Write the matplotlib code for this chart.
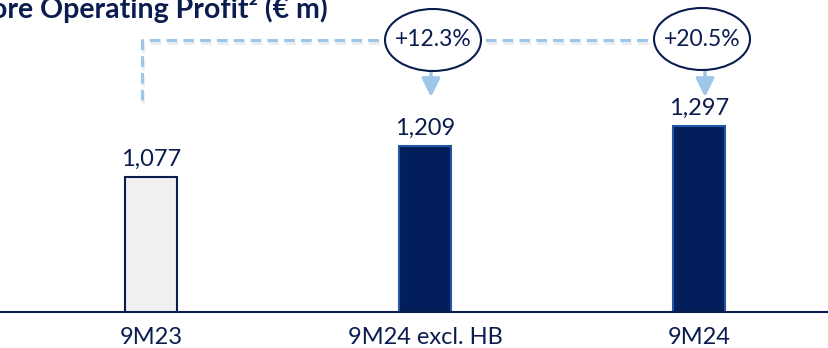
import matplotlib.pyplot as plt
import matplotlib.patheffects as pe
from matplotlib.patches import Ellipse
from matplotlib.transforms import IdentityTransform

plt.rcParams['font.family'] = ['Lato', 'DejaVu Sans']

categories = ['9M23', '9M24 excl. HB', '9M24']
values = [1077, 1209, 1297]
value_labels = ['1,077', '1,209', '1,297']
growth_labels = ['+12.3%', '+20.5%']

NAVY = '#0B1D4F'
BAR_DARK = '#021F5C'
DASH = '#9DC6E8'

W, H = 829, 348
fig = plt.figure(figsize=(W / 100, H / 100), dpi=100)

# bars live in an axes that spans the full width; baseline sits 36px above the bottom
ax = fig.add_axes([0, 36 / H, 1, (H - 36) / H])
x = list(range(len(categories)))
colors = ['#F0F0F0', BAR_DARK, BAR_DARK]
edges = [NAVY, '#2456A6', '#2456A6']
ax.bar(x, values, width=0.19, color=colors, edgecolor=edges, linewidth=1.5, zorder=2)
ax.set_xlim(-0.551, 2.474)
ax.set_ylim(496, 1837)

for xi, v, lab in zip(x, values, value_labels):
    ax.annotate(lab, (xi, v), xytext=(0, 5), textcoords='offset points',
                ha='center', va='bottom', fontsize=17, color=NAVY)

ax.set_xticks(x)
ax.set_xticklabels(categories, fontsize=17, color=NAVY)
ax.tick_params(axis='x', length=0, pad=11)
ax.set_yticks([])
for s in ['top', 'left', 'right']:
    ax.spines[s].set_visible(False)
ax.spines['bottom'].set_color(NAVY)
ax.spines['bottom'].set_linewidth(1.5)


# annotation layer in pixel coordinates (measured from the top)
def P(px, py):
    return px, H - py


shadow = [pe.SimpleLineShadow(offset=(1, -2), shadow_color='#888888', alpha=0.15), pe.Normal()]
xs, ys = zip(P(142, 100), P(142, 40), P(702, 40))
fig.add_artist(plt.Line2D(xs, ys, transform=IdentityTransform(), color=DASH,
                          lw=2.2, ls=(0, (3.5, 2)), path_effects=shadow, zorder=1))

for (cx, cy), text, ax_x in zip([(433, 40), (702, 39)], growth_labels, [431, 705]):
    ex, ey = P(cx, cy)
    fig.add_artist(Ellipse((ex, ey), 96, 62, transform=IdentityTransform(),
                           facecolor='white', edgecolor=NAVY, lw=1.5, zorder=3))
    fig.text(cx / W, 1 - cy / H, text, ha='center', va='center',
             fontsize=16.5, color=NAVY, zorder=4)
    ax.annotate('', xy=P(ax_x, 97), xytext=P(ax_x, 71),
                xycoords='figure pixels', textcoords='figure pixels',
                arrowprops=dict(arrowstyle='-|>,head_width=0.55,head_length=1.1',
                                color=DASH, lw=2.5, shrinkA=0, shrinkB=0))

fig.text(328 / W, 1 - 18 / H, 'Core Operating Profit² (€ m)', ha='right', va='baseline',
         fontsize=20.5, fontweight='bold', color=NAVY)

fig.savefig('out.png', dpi=100)
